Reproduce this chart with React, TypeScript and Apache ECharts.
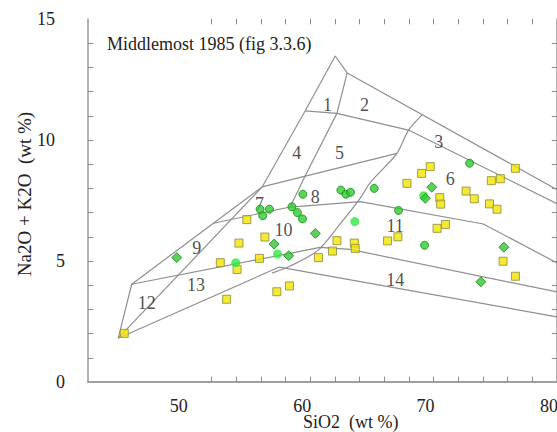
import React, { useEffect, useRef } from "react";
import * as echarts from "echarts";

// ---- axes ----
const xTickValues = [52, 54, 56, 58, 60, 62, 64, 66, 68, 70, 72, 74, 76, 78, 80];
const xLabelValues = [50, 60, 70, 80];
const yTickValues = [1, 2, 3, 4, 5, 6, 7, 8, 9, 10, 11, 12, 13, 14];
const yLabelValues = [0, 5, 10, 15];

// ---- field boundaries [SiO2, Na2O+K2O] ----
const outerUpper = [[44.45, 1.81], [45.54, 4.04], [52.16, 6.56], [56.11, 8.06], [59.59, 11.2], [62.03, 13.47], [63.0, 12.77], [80.0, 7.95]];
const line12_45 = [[63.0, 12.77], [62.17, 11.1], [59.59, 8.51], [58.38, 7.23]];
const line14_25_36 = [[59.59, 11.2], [62.17, 11.1], [67.97, 10.41], [80.0, 7.37]];
const curve23_56 = [[69.06, 11.03], [67.97, 10.41], [67.03, 9.45], [64.87, 8.24], [64.06, 7.6], [62.43, 6.53], [60.65, 5.45], [58.38, 4.79], [56.9, 4.5]];
const line45_78 = [[56.11, 8.06], [67.03, 9.45]];
const line8_10_6_11 = [[52.16, 6.56], [58.38, 7.23], [64.06, 7.45], [74.03, 6.53], [80.0, 4.92]];
const line9_13_11_14 = [[45.54, 4.04], [60.81, 5.56], [63.24, 5.48], [80.0, 3.72]];
const outerLower = [[44.45, 1.81], [57.49, 4.75], [80.0, 2.69]];
const line12_13 = [[44.45, 1.81], [56.11, 8.06]];

// ---- field numbers ----
const fieldNames = ["1", "2", "3", "4", "5", "6", "7", "8", "9", "10", "11", "12", "13", "14"];
const fieldX = [61.4, 64.4, 70.41, 58.92, 62.38, 71.35, 55.89, 60.41, 50.81, 57.83, 66.89, 46.76, 50.75, 66.89];
const fieldY = [11.45, 11.45, 9.93, 9.45, 9.45, 8.39, 7.34, 7.66, 5.52, 6.28, 6.45, 3.25, 4.01, 4.21];

// ---- samples ----
const yellowSiO2 = [44.94, 54.87, 54.23, 56.33, 52.72, 54.08, 55.89, 53.23, 57.3, 58.32, 60.67, 61.81, 62.17, 63.58, 63.65, 66.27, 67.11, 67.84, 69.03, 69.73, 70.5, 70.58, 72.63, 73.3, 74.68, 75.41, 76.63, 74.53, 75.14, 70.28, 70.97, 75.63, 76.63];
const yellowAlk = [2.01, 6.71, 5.74, 5.99, 4.93, 4.65, 5.11, 3.42, 3.73, 3.97, 5.14, 5.41, 5.84, 5.74, 5.52, 5.83, 6.0, 8.21, 8.62, 8.9, 7.62, 7.35, 7.89, 7.57, 8.32, 8.4, 8.83, 7.36, 7.14, 6.35, 6.51, 4.99, 4.37];

const greenCircleSiO2 = [55.94, 56.16, 56.7, 58.52, 58.97, 59.38, 59.41, 62.49, 62.9, 63.27, 65.19, 67.16, 69.27, 72.92];
const greenCircleAlk = [7.14, 6.87, 7.14, 7.24, 7.0, 6.74, 7.76, 7.93, 7.76, 7.84, 8.0, 7.09, 5.65, 9.04];

const brightGreenSiO2 = [53.97, 57.36, 63.62, 69.19];
const brightGreenAlk = [4.93, 5.29, 6.63, 7.7];

const greenDiamondSiO2 = [49.19, 57.08, 58.26, 60.42, 69.85, 69.33, 75.7, 73.83];
const greenDiamondAlk = [5.14, 5.7, 5.22, 6.14, 8.05, 7.59, 5.57, 4.14];

const X_MIN = 42;
const X_MAX = 80;
const Y_MIN = 0;
const Y_MAX = 15;
// inward tick length expressed in axis units (about 5 px)
const X_TICK_UNITS = 0.42;
const Y_TICK_UNITS = 0.22;

const FONT = "Liberation Serif, Times New Roman, serif";
const LINE_COLOR = "#8f8f8f";
const AXIS_COLOR = "#9a9a9a";
const TICK_COLOR = "#8a8a8a";

const zip = (xs: number[], ys: number[]) => xs.map((x, i) => [x, ys[i]]);

export default function App() {
  const ref = useRef<HTMLDivElement>(null);
  useEffect(() => {
    if (!ref.current) return;
    const chart = echarts.init(ref.current, null, { renderer: "svg" });

    const boundary = (data: number[][]) => ({
      type: "line",
      data,
      showSymbol: false,
      symbol: "none",
      silent: true,
      clip: true,
      lineStyle: { color: LINE_COLOR, width: 1.2 },
      z: 1,
    });

    const axisCommon = {
      type: "value",
      axisLine: { show: true, lineStyle: { color: AXIS_COLOR, width: 1.5 } },
      axisTick: { show: false },
      splitLine: { show: false },
    };

    const tickSegments: any[] = [];
    xTickValues.forEach((v) => {
      tickSegments.push([{ coord: [v, Y_MIN] }, { coord: [v, Y_MIN + Y_TICK_UNITS] }]);
      tickSegments.push([{ coord: [v, Y_MAX] }, { coord: [v, Y_MAX - Y_TICK_UNITS] }]);
    });
    yTickValues.forEach((v) => {
      tickSegments.push([{ coord: [X_MIN, v] }, { coord: [X_MIN + X_TICK_UNITS, v] }]);
      tickSegments.push([{ coord: [X_MAX, v] }, { coord: [X_MAX - X_TICK_UNITS, v] }]);
    });

    chart.setOption({
      animation: false,
      backgroundColor: "#ffffff",
      grid: { left: 88, right: 0, top: 19, bottom: 50, containLabel: false, outerBoundsMode: "none" },
      xAxis: [
        {
          ...axisCommon,
          position: "bottom",
          min: X_MIN,
          max: X_MAX,
          axisLabel: {
            show: true,
            customValues: xLabelValues,
            fontFamily: FONT,
            fontSize: 18,
            color: "#222",
            margin: 15,
            padding: [0, 16, 0, 0],
          },
        },
        { ...axisCommon, position: "top", min: X_MIN, max: X_MAX, axisLabel: { show: false } },
      ],
      yAxis: [
        {
          ...axisCommon,
          position: "left",
          min: Y_MIN,
          max: Y_MAX,
          axisLabel: {
            show: true,
            customValues: yLabelValues,
            margin: 23,
            formatter: (v: number) => (v >= 10 ? `{d|${v}}` : `{s|${v}}`),
            rich: {
              d: { fontFamily: FONT, fontSize: 18, color: "#222", padding: [0, 10, 0, 0] },
              s: { fontFamily: FONT, fontSize: 18, color: "#222" },
            },
          },
        },
        { ...axisCommon, position: "right", min: Y_MIN, max: Y_MAX, axisLabel: { show: false } },
      ],
      series: [
        {
          ...boundary(outerLower),
          markLine: {
            silent: true,
            symbol: ["none", "none"],
            label: { show: false },
            lineStyle: { color: TICK_COLOR, width: 1, type: "solid" },
            data: tickSegments,
          },
        },
        boundary(outerUpper),
        boundary(line12_45),
        boundary(line14_25_36),
        { ...boundary(curve23_56), smooth: 0.3 },
        boundary(line45_78),
        boundary(line8_10_6_11),
        boundary(line9_13_11_14),
        boundary(line12_13),
        {
          type: "scatter",
          data: fieldNames.map((n, i) => ({ name: n, value: [fieldX[i], fieldY[i]] })),
          symbolSize: 0,
          silent: true,
          z: 3,
          label: {
            show: true,
            position: "inside",
            formatter: (p: any) => p.name,
            fontFamily: FONT,
            fontSize: 18,
            color: "#222",
          },
        },
        {
          type: "scatter",
          data: zip(yellowSiO2, yellowAlk),
          symbol: "rect",
          symbolSize: 8,
          z: 4,
          itemStyle: { color: "#f4e400", borderColor: "#8a8a3a", borderWidth: 1 },
        },
        {
          type: "scatter",
          data: zip(greenCircleSiO2, greenCircleAlk),
          symbol: "circle",
          symbolSize: 8,
          z: 4,
          itemStyle: { color: "#2ecc2e", borderColor: "#178a17", borderWidth: 1 },
        },
        {
          type: "scatter",
          data: zip(brightGreenSiO2, brightGreenAlk),
          symbol: "circle",
          symbolSize: 9,
          z: 4,
          itemStyle: { color: "#30e840" },
        },
        {
          type: "scatter",
          data: zip(greenDiamondSiO2, greenDiamondAlk),
          symbol: "diamond",
          symbolSize: 10,
          z: 4,
          itemStyle: { color: "#33c433", borderColor: "#178a17", borderWidth: 1 },
        },
      ],
      graphic: [
        {
          type: "text",
          left: 107,
          top: 35,
          style: { text: "Middlemost 1985 (fig 3.3.6)", font: `18px ${FONT}`, fill: "#222" },
        },
        {
          type: "text",
          left: 303,
          top: 413,
          style: { text: "SiO2  (wt %)", font: `18px ${FONT}`, fill: "#222" },
        },
        {
          type: "text",
          x: 24,
          y: 194,
          rotation: Math.PI / 2,
          style: {
            text: "Na2O + K2O  (wt %)",
            font: `19px ${FONT}`,
            fill: "#222",
            textAlign: "center",
            textVerticalAlign: "middle",
          },
        },
      ],
    });
    return () => chart.dispose();
  }, []);
  return <div ref={ref} style={{ position: "fixed", left: 0, top: 0, width: 557, height: 432 }} />;
}
